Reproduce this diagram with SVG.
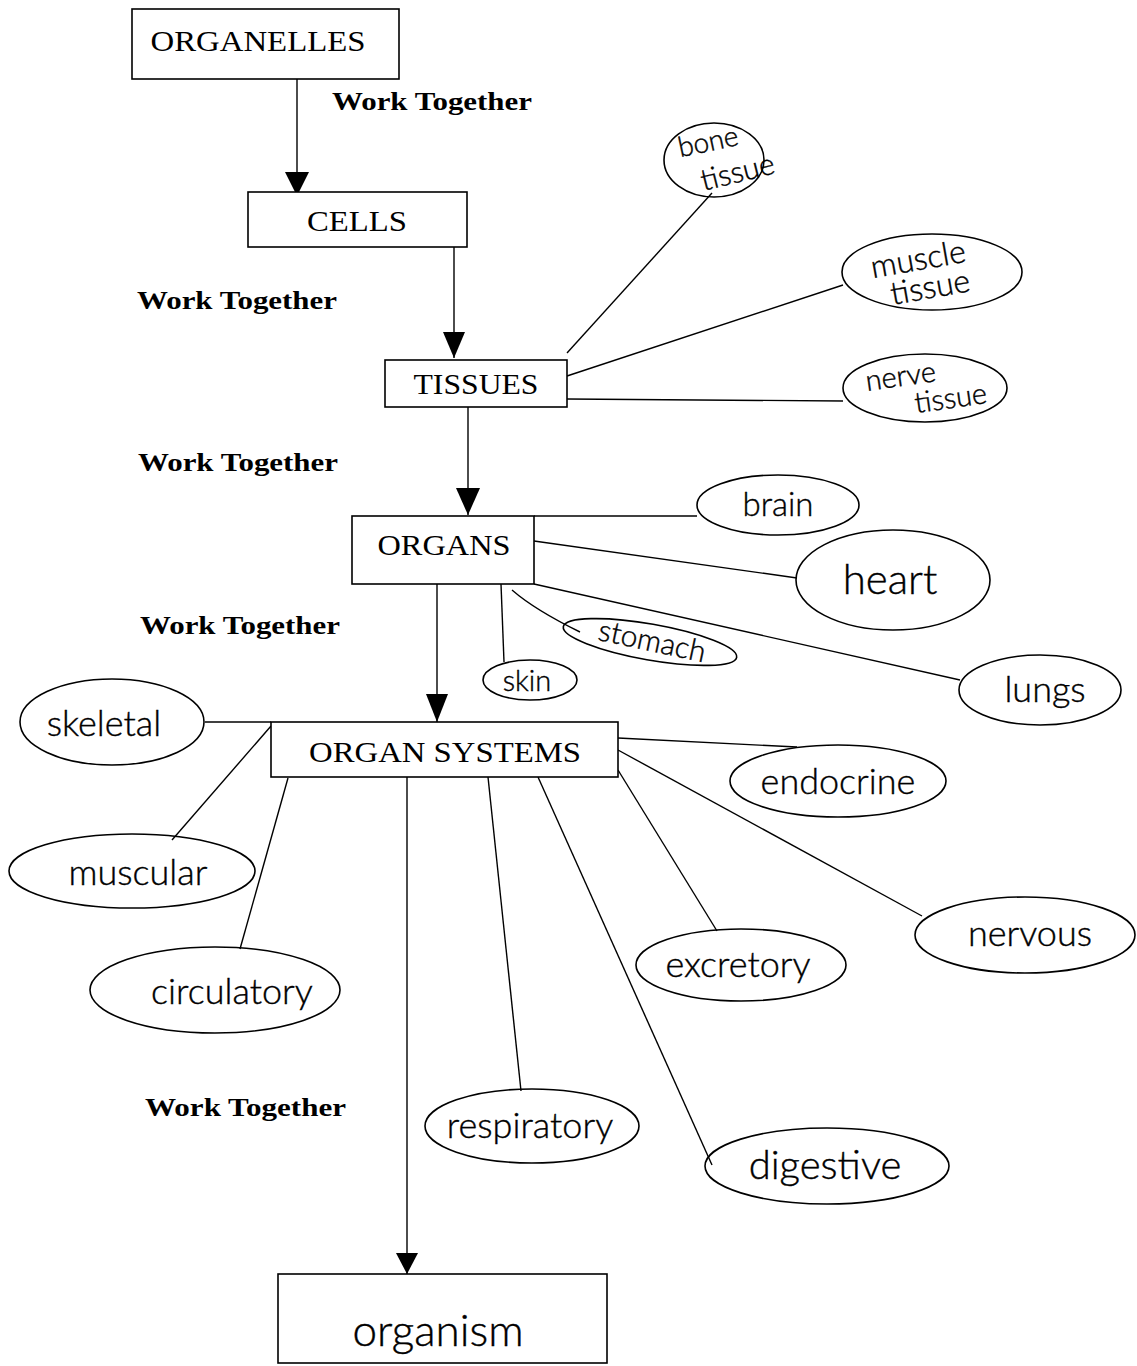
<svg xmlns="http://www.w3.org/2000/svg" width="1137" height="1366" viewBox="0 0 1137 1366">
<style>
.box{fill:#fff;stroke:#000;stroke-width:1.6}
.lbl{font-family:"Liberation Serif","Times New Roman",serif;font-size:29px;fill:#000;text-anchor:middle}
.wt{font-family:"Liberation Serif","Times New Roman",serif;font-size:25px;font-weight:bold;fill:#000}
.ell{fill:none;stroke:#000;stroke-width:1.6}
.hw{font-family:"Lato","Noto Sans",sans-serif;font-weight:300;fill:#000;stroke:#000;stroke-width:0.4;text-anchor:middle}
.ln{fill:none;stroke:#000;stroke-width:1.4}
</style>
<rect width="1137" height="1366" fill="#fff"/>

<g id="connectors">
<line class="ln" x1="297" y1="79" x2="297" y2="195"/>
<path d="M285,172 L309,172 L297,196 Z" fill="#000"/>
<line class="ln" x1="454" y1="238" x2="454" y2="358"/>
<path d="M443,332 L465,332 L454,358 Z" fill="#000"/>
<line class="ln" x1="468" y1="407" x2="468" y2="515"/>
<path d="M456,488 L480,488 L468,515 Z" fill="#000"/>
<line class="ln" x1="437" y1="584" x2="437" y2="722"/>
<path d="M426,694 L448,694 L437,722 Z" fill="#000"/>
<line class="ln" x1="407" y1="777" x2="407" y2="1274"/>
<path d="M396,1253 L418,1253 L407,1274 Z" fill="#000"/>

<line class="ln" x1="567" y1="353" x2="712" y2="193"/>
<line class="ln" x1="567" y1="376" x2="843" y2="285"/>
<line class="ln" x1="567" y1="399" x2="843" y2="401"/>

<line class="ln" x1="534" y1="516" x2="697" y2="516"/>
<line class="ln" x1="534" y1="541" x2="797" y2="578"/>
<line class="ln" x1="534" y1="584" x2="960" y2="680"/>
<path class="ln" d="M512,590 Q535,610 580,632"/>
<line class="ln" x1="501" y1="584" x2="504" y2="662"/>

<line class="ln" x1="205" y1="722" x2="271" y2="722"/>
<line class="ln" x1="271" y1="726" x2="172" y2="840"/>
<line class="ln" x1="288" y1="778" x2="240" y2="949"/>
<line class="ln" x1="618" y1="738" x2="797" y2="747"/>
<line class="ln" x1="618" y1="750" x2="922" y2="916"/>
<line class="ln" x1="618" y1="770" x2="717" y2="931"/>
<line class="ln" x1="538" y1="777" x2="712" y2="1165"/>
<line class="ln" x1="488" y1="777" x2="521" y2="1091"/>
</g>

<g id="organelles">
<rect class="box" x="132" y="9" width="267" height="70"/>
<text class="lbl" x="258" y="51" textLength="215" lengthAdjust="spacingAndGlyphs">ORGANELLES</text>
</g>
<g id="cells">
<rect class="box" x="248" y="192" width="219" height="55"/>
<text class="lbl" x="357" y="231" textLength="100" lengthAdjust="spacingAndGlyphs">CELLS</text>
</g>
<g id="tissues">
<rect class="box" x="385" y="360" width="182" height="47"/>
<text class="lbl" x="476" y="394" textLength="125" lengthAdjust="spacingAndGlyphs">TISSUES</text>
</g>
<g id="organs">
<rect class="box" x="352" y="516" width="182" height="68"/>
<text class="lbl" x="444" y="555" textLength="133" lengthAdjust="spacingAndGlyphs">ORGANS</text>
</g>
<g id="organ-systems">
<rect class="box" x="271" y="722" width="347" height="55"/>
<text class="lbl" x="445" y="762" textLength="272" lengthAdjust="spacingAndGlyphs">ORGAN SYSTEMS</text>
</g>
<g id="organism">
<rect class="box" x="278" y="1274" width="329" height="89"/>
<text class="hw" x="438" y="1346" font-size="44">organism</text>
</g>

<g id="labels">
<text class="wt" x="332" y="110" textLength="200" lengthAdjust="spacingAndGlyphs">Work Together</text>
<text class="wt" x="137" y="309" textLength="200" lengthAdjust="spacingAndGlyphs">Work Together</text>
<text class="wt" x="138" y="471" textLength="200" lengthAdjust="spacingAndGlyphs">Work Together</text>
<text class="wt" x="140" y="634" textLength="200" lengthAdjust="spacingAndGlyphs">Work Together</text>
<text class="wt" x="145" y="1116" textLength="201" lengthAdjust="spacingAndGlyphs">Work Together</text>
</g>

<g id="bone-tissue">
<ellipse class="ell" cx="714" cy="160" rx="50" ry="37"/>
<text class="hw" font-size="28" transform="translate(710,151) rotate(-12)">bone</text>
<text class="hw" font-size="30" transform="translate(740,182) rotate(-14)">tissue</text>
</g>
<g id="muscle-tissue">
<ellipse class="ell" cx="932" cy="272" rx="90" ry="38"/>
<text class="hw" font-size="32" transform="translate(920,270) rotate(-10)">muscle</text>
<text class="hw" font-size="32" transform="translate(932,298) rotate(-10)">tissue</text>
</g>
<g id="nerve-tissue">
<ellipse class="ell" cx="925" cy="388" rx="82" ry="34"/>
<text class="hw" font-size="29" transform="translate(902,386) rotate(-8)">nerve</text>
<text class="hw" font-size="29" transform="translate(952,408) rotate(-8)">tissue</text>
</g>

<g id="brain">
<ellipse class="ell" cx="778" cy="505" rx="81" ry="30"/>
<text class="hw" x="778" y="516" font-size="33">brain</text>
</g>
<g id="heart">
<ellipse class="ell" cx="893" cy="580" rx="97" ry="50"/>
<text class="hw" x="890" y="594" font-size="42">heart</text>
</g>
<g id="lungs">
<ellipse class="ell" cx="1040" cy="690" rx="81" ry="35"/>
<text class="hw" x="1045" y="702" font-size="36">lungs</text>
</g>
<g id="stomach">
<ellipse class="ell" cx="650" cy="642" rx="88" ry="18" transform="rotate(10 650 642)"/>
<text class="hw" font-size="30" transform="translate(650,651) rotate(12)">stomach</text>
</g>
<g id="skin">
<ellipse class="ell" cx="530" cy="680" rx="47" ry="20"/>
<text class="hw" x="527" y="691" font-size="29">skin</text>
</g>

<g id="skeletal">
<ellipse class="ell" cx="112" cy="722" rx="92" ry="43"/>
<text class="hw" x="104" y="736" font-size="36">skeletal</text>
</g>
<g id="muscular">
<ellipse class="ell" cx="132" cy="871" rx="123" ry="37"/>
<text class="hw" x="138" y="885" font-size="36">muscular</text>
</g>
<g id="circulatory">
<ellipse class="ell" cx="215" cy="990" rx="125" ry="43"/>
<text class="hw" x="232" y="1004" font-size="36">circulatory</text>
</g>
<g id="endocrine">
<ellipse class="ell" cx="838" cy="781" rx="108" ry="36"/>
<text class="hw" x="838" y="794" font-size="36">endocrine</text>
</g>
<g id="nervous">
<ellipse class="ell" cx="1025" cy="935" rx="110" ry="38"/>
<text class="hw" x="1030" y="946" font-size="36">nervous</text>
</g>
<g id="excretory">
<ellipse class="ell" cx="741" cy="965" rx="105" ry="36"/>
<text class="hw" x="738" y="977" font-size="36">excretory</text>
</g>
<g id="respiratory">
<ellipse class="ell" cx="532" cy="1126" rx="107" ry="37"/>
<text class="hw" x="530" y="1138" font-size="36">respiratory</text>
</g>
<g id="digestive">
<ellipse class="ell" cx="827" cy="1166" rx="122" ry="38"/>
<text class="hw" x="825" y="1179" font-size="40">digestive</text>
</g>
</svg>
